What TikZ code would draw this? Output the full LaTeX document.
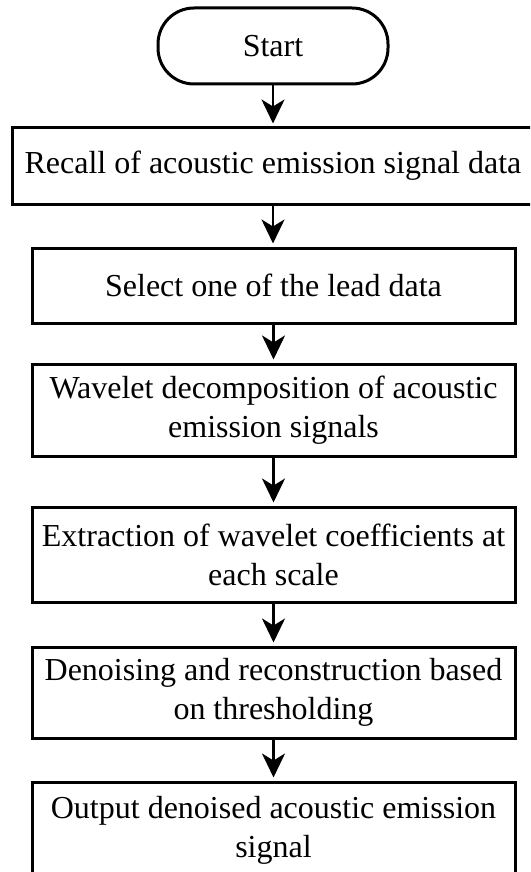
\documentclass[tikz,border=0pt]{standalone}
\usepackage{fontspec}
\setmainfont{Liberation Serif}
\usetikzlibrary{arrows.meta}
\tikzset{
  stepbox/.style={draw=black, line width=3pt, fill=white, rectangle, inner sep=0pt, align=center,
    font=\fontsize{32}{39}\selectfont, text=black},
  startbox/.style={stepbox, rounded corners=36pt},
  flow/.style={line width=2.5pt, -{Stealth[length=24pt,width=23pt,inset=7pt]}, shorten >=3pt}
}
\begin{document}
\begin{tikzpicture}[x=1pt,y=-1pt]
\useasboundingbox (0,0) rectangle (530,872);
\clip (0,0) rectangle (530,872);
\fill[white] (0,0) rectangle (530,872);
\node[startbox, minimum width=230pt, minimum height=76pt] (s) at (273,46) {Start};
\node[stepbox, minimum width=522pt, minimum height=76pt] (b1) at (273,166) {Recall of acoustic emission signal data};
\node[stepbox, minimum width=483pt, minimum height=75pt] (b2) at (273.5,285.5) {Select one of the lead data};
\node[stepbox, minimum width=483pt, minimum height=92pt] (b3) at (273.5,410) {Wavelet decomposition of acoustic\\emission signals};
\node[stepbox, minimum width=483pt, minimum height=95pt] (b4) at (273.5,554.5) {Extraction of wavelet coefficients at\\each scale};
\node[stepbox, minimum width=483pt, minimum height=91pt] (b5) at (273.5,692.5) {Denoising and reconstruction based\\on thresholding};
\node[stepbox, minimum width=483pt, minimum height=96pt] (b6) at (273.5,830) {Output denoised acoustic emission\\signal};
\draw[flow] (s.south) -- (s.south |- b1.north);
\draw[flow] (b1.south) -- (b1.south |- b2.north);
\draw[flow] (b2.south) -- (b2.south |- b3.north);
\draw[flow] (b3.south) -- (b3.south |- b4.north);
\draw[flow] (b4.south) -- (b4.south |- b5.north);
\draw[flow] (b5.south) -- (b5.south |- b6.north);
\end{tikzpicture}
\end{document}
